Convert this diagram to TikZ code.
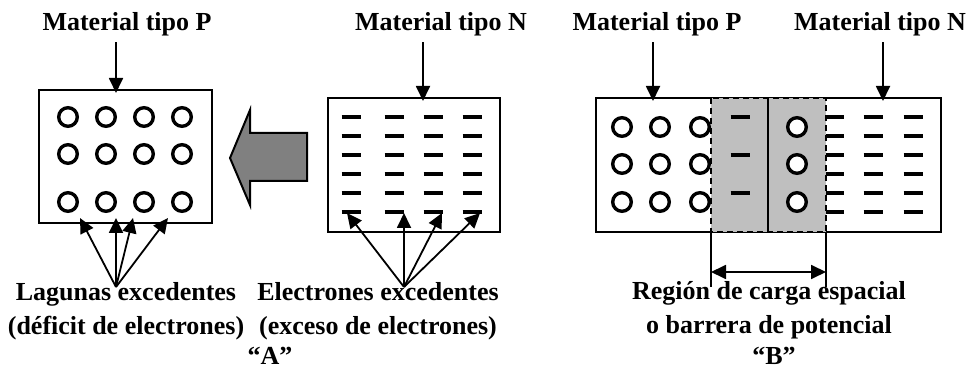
\documentclass[tikz,border=0pt]{standalone}
\usepackage{fontspec}
\setmainfont{Liberation Serif}
\usepackage{tikz}
\usetikzlibrary{positioning,arrows.meta}

\tikzset{
  lbl/.style={font=\fontsize{13}{17}\selectfont\bfseries,inner sep=0pt,align=center},
  box/.style={line width=1pt},
  ptr/.style={line width=0.9pt,-{Triangle[length=7.5pt,width=7pt]}},
  hole/.style={circle,draw,line width=1.7pt,minimum size=9.3pt,inner sep=0pt,fill=white},
  elec/.style={line width=1.8pt},
  zone/.style={fill=black!25,draw,line width=1pt,dash pattern=on 3pt off 2pt}
}

\begin{document}
\begin{tikzpicture}[x=0.5pt,y=-0.5pt]
\useasboundingbox (0,0) rectangle (969,368);

%%% part A
\draw[box](39,90)rectangle(212,223);% P material
\draw[box](328,98)rectangle(500,232);% N material
\foreach \x in {68,106,144,182}
  \foreach \y in {117,154,202}
    \node[hole] at (\x,\y) {};
\foreach \x in {351,394,433,472}
  \foreach \y in {117,136,155,174,193,212}
    \draw[elec](\x-9.5,\y)--(\x+9.5,\y);
% big grey arrow
\draw[line width=1pt,fill=black!50](307,133)--(250,133)--(250,110)--(230,158)
  --(250,205)--(250,181)--(307,181)--cycle;

\node[lbl] (matPA) at (127,24) {Material tipo P};
\node[lbl] (matNA) at (441,24) {Material tipo N};
\coordinate (pAtop) at (116,93);
\coordinate (nAtop) at (423,101);
\draw[ptr,shorten <=3pt](matPA.south -| pAtop)--(pAtop);
\draw[ptr,shorten <=3pt](matNA.south -| nAtop)--(nAtop);

\node[lbl] (lag) at (126,311) {Lagunas excedentes\\(déficit de electrones)};
\node[lbl] (ele) at (378,311) {Electrones excedentes\\(exceso de electrones)};
\coordinate (lagTop) at (116,287);
\coordinate (eleTop) at (404,287);
\foreach \t [count=\i] in {80,116,133,168}{
  \coordinate (h\i) at (\t,218);
  \draw[ptr](lagTop)--(h\i);
}
\foreach \t [count=\i] in {347,404,442,480}{
  \coordinate (e\i) at (\t,213);
  \draw[ptr](eleTop)--(e\i);
}
\node[lbl] (capA) at (270,356) {“A”};

%%% part B
\draw[box](596,98)rectangle(941,232);% junction
\foreach \x in {622,660,700}
  \foreach \y in {127,164,202}
    \node[hole] at (\x,\y) {};
\foreach \x in {834,873,913}
  \foreach \y in {117,136,155,174,193,212}
    \draw[elec](\x-9.5,\y)--(\x+9.5,\y);
\draw[zone](711,98)rectangle(826,232);% space charge region
\draw[box](768,98)--(768,232);
\foreach \y in {117,155,193}
  \draw[elec](740-9.5,\y)--(740+9.5,\y);
\foreach \y in {127,164,202}
  \node[hole] at (797,\y) {};

\node[lbl] (matPB) at (657,24) {Material tipo P};
\node[lbl] (matNB) at (880,24) {Material tipo N};
\coordinate (pBtop) at (653,101);
\coordinate (nBtop) at (883,101);
\draw[ptr,shorten <=3pt](matPB.south -| pBtop)--(pBtop);
\draw[ptr,shorten <=3pt](matNB.south -| nBtop)--(nBtop);

% width of the region
\coordinate (wl) at (711,287);
\coordinate (wr) at (826,287);
\draw[line width=0.9pt](711,232)--(wl);
\draw[line width=0.9pt](826,232)--(wr);
\draw[line width=0.9pt,{Triangle[length=7.5pt,width=7pt]}-{Triangle[length=7.5pt,width=7pt]}]
  ([yshift=7.5pt]wl)--([yshift=7.5pt]wr);

\node[lbl] (reg) at (769,310) {Región de carga espacial\\o barrera de potencial};
\node[lbl] (capB) at (774,356) {“B”};

\end{tikzpicture}
\end{document}
